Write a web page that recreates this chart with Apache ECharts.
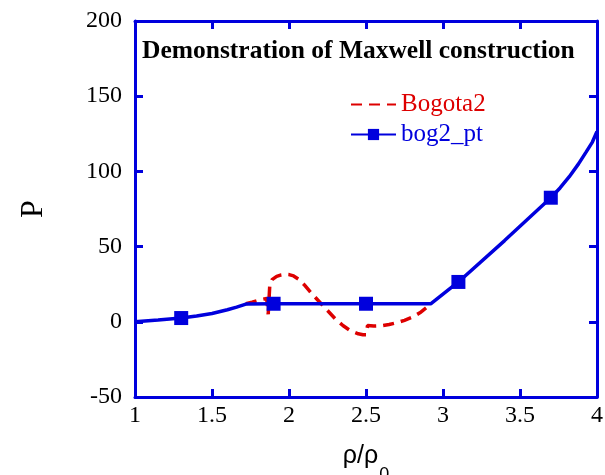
<!DOCTYPE html>
<html><head><meta charset="utf-8">
<script src="https://cdn.jsdelivr.net/npm/echarts@6/dist/echarts.min.js"></script>
<style>html,body{margin:0;padding:0;background:#fff}#c{width:605px;height:475px}</style>
</head><body><div id="c"></div>
<script>
// Bogota2 (dashed red) curve
var bogotaX = [1.72,1.76,1.8,1.83,1.855,1.865,1.875,1.89,1.92,1.95,1.98,2.0,2.03,2.06,2.1,2.15,2.2,2.25,2.3,2.35,2.4,2.45,2.48,2.5,2.51,2.55,2.6,2.65,2.7,2.75,2.8,2.85,2.9,2.92];
var bogotaY = [12,13,14.2,15,15.5,5,24,28,30.2,31.2,31.6,31.4,30.5,28.5,24.5,18.5,13,7.5,2,-2.5,-6,-8,-8.6,-8.6,-2.5,-2.8,-2.6,-1.8,-0.6,1,3,6,10,12];
// bog2_pt (blue) curve
var bogX = [1.0,1.15,1.3,1.4,1.5,1.6,1.66,1.72,1.9,2.5,2.92,3.1,3.4,3.7,3.76,3.82,3.88,3.93,3.97,4.0];
var bogY = [0,1.2,2.5,3.8,5.5,8,9.8,11.8,12,12,12,26.5,54,82.5,89,96.5,105,113,119.5,126.5];
// points with square markers
var markX = [1.3,1.9,2.5,3.1,3.7];
var xTicks = [1,1.5,2,2.5,3,3.5,4];
var yTicks = [-50,0,50,100,150,200];

var BLUE = '#0000dd', RED = '#dd0000';
var FONT = '"Liberation Serif", "Times New Roman", serif';
var SANS = '"Liberation Sans", Arial, sans-serif';

var bogData = bogX.map(function(x,i){
  var m = markX.indexOf(x) >= 0;
  return {value:[x,bogY[i]], symbolSize: m ? 14 : 0};
});
var redData = bogotaX.map(function(x,i){return [x,bogotaY[i]];});

var axisLine = {show:true, onZero:false, lineStyle:{color:BLUE, width:3}};
var axisTick = {show:true, inside:true, length:8, lineStyle:{color:BLUE, width:3}};

var chart = echarts.init(document.getElementById('c'), null, {renderer:'canvas'});
chart.setOption({
  animation:false,
  backgroundColor:'#fff',
  grid:{left:135, right:8, top:21, bottom:78, containLabel:false, outerBoundsMode:'none'},
  title:{text:'Demonstration of Maxwell construction', left:137, top:33,
    textStyle:{fontFamily:FONT, fontSize:25.5, fontWeight:'bold', color:'#000'}},
  legend:{orient:'vertical', left:350, top:92, padding:0, itemWidth:45, itemHeight:14, itemGap:5,
    textStyle:{fontFamily:FONT, fontSize:25},
    data:[{name:'Bogota2', textStyle:{color:RED}, itemStyle:{opacity:0}},
          {name:'bog2_pt', textStyle:{color:BLUE}}]},
  xAxis:[{type:'value', min:1, max:4, interval:0.5, position:'bottom',
    axisLine:axisLine, axisTick:axisTick, splitLine:{show:false},
    axisLabel:{fontFamily:FONT, fontSize:24, color:'#000', margin:7,
      formatter:function(v){return xTicks.indexOf(v)>=0 ? String(v) : '';}},
    name:'{a|ρ/ρ}{b|0}', nameLocation:'middle', nameGap:31,
    nameTextStyle:{rich:{a:{fontFamily:SANS, fontSize:25, color:'#000'}, b:{fontFamily:SANS, fontSize:18, color:'#000', padding:[38,0,0,1]}}}},
    {type:'value', min:1, max:4, interval:0.5, position:'top',
    axisLine:axisLine, axisTick:axisTick, splitLine:{show:false}, axisLabel:{show:false}}],
  yAxis:[{type:'value', min:-50, max:200, interval:50, position:'left',
    axisLine:axisLine, axisTick:axisTick, splitLine:{show:false},
    axisLabel:{fontFamily:FONT, fontSize:24, color:'#000', margin:13,
      formatter:function(v){return yTicks.indexOf(v)>=0 ? String(v) : '';}},
    name:'P', nameLocation:'middle', nameGap:85, nameRotate:90,
    nameTextStyle:{fontFamily:FONT, fontSize:32, color:'#000'}},
    {type:'value', min:-50, max:200, interval:50, position:'right',
    axisLine:axisLine, axisTick:axisTick, splitLine:{show:false}, axisLabel:{show:false}}],
  series:[
    {name:'Bogota2', type:'line', data:redData, symbol:'none',
      lineStyle:{color:RED, width:3.5, type:[11,7]}, itemStyle:{color:RED}, z:2},
    {name:'bog2_pt', type:'line', data:bogData, symbol:'rect',
      lineStyle:{color:BLUE, width:3.5}, itemStyle:{color:BLUE}, z:3}
  ]
});
</script></body></html>
